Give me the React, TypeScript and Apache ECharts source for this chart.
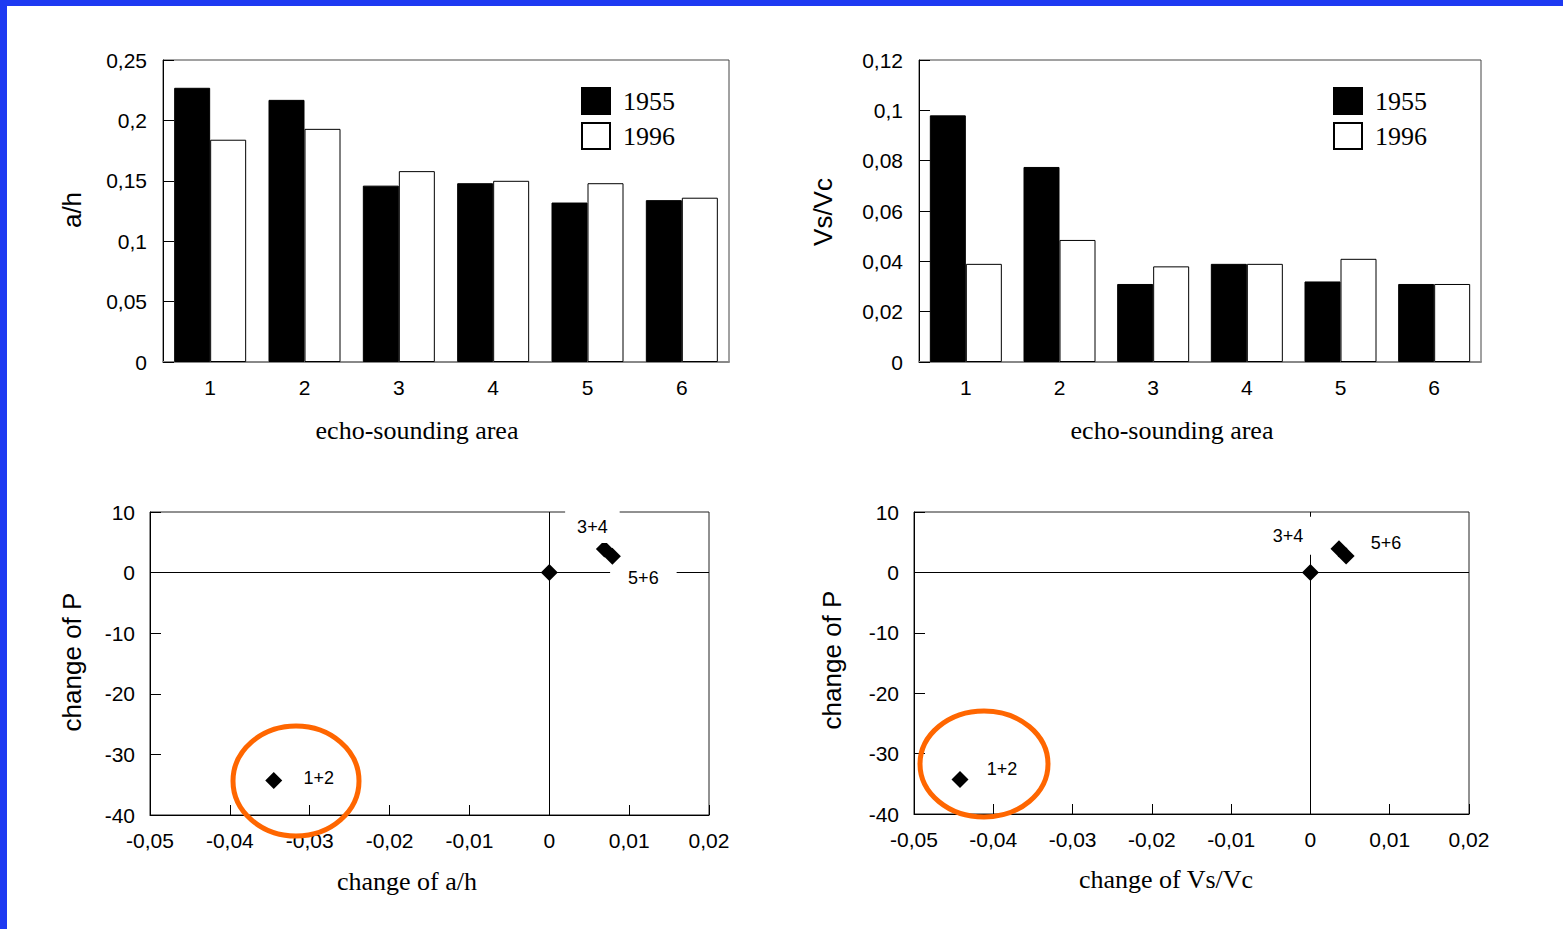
import React, { useEffect, useRef } from "react";
import * as echarts from "echarts";

// ---- data ----
const categories = ["1", "2", "3", "4", "5", "6"];
const ah1955 = [0.227, 0.217, 0.146, 0.148, 0.132, 0.134];
const ah1996 = [0.184, 0.193, 0.158, 0.15, 0.148, 0.136];
const vs1955 = [0.098, 0.0775, 0.031, 0.039, 0.032, 0.031];
const vs1996 = [0.039, 0.0485, 0.038, 0.039, 0.041, 0.031];

const groupLabels = ["1+2", "3+4", "5+6"];
const changeAh = [-0.0345, 0.0069, 0.0079];
const changeVsVc = [-0.0442, 0.0036, 0.0045];
const changeP = [-34.3, 3.9, 2.7];
const origin = [0, 0];

const fmt = (v: number) => {
  const r = Math.round(v * 1000) / 1000;
  return r === 0 ? "0" : String(r).replace(".", ",");
};

const SANS = "Liberation Sans, Arial, sans-serif";
const SERIF = "Liberation Serif, Times New Roman, serif";

export default function App() {
  const ref = useRef<HTMLDivElement>(null);
  useEffect(() => {
    if (!ref.current) return;
    const chart = echarts.init(ref.current, null, { renderer: "svg" });

    const labelStyle = { color: "#000", fontSize: 21, fontFamily: SANS };

    const barY = (max: number, interval: number) => ({
      type: "value",
      min: 0,
      max,
      interval,
      axisLine: { show: true, lineStyle: { color: "#000", width: 1 } },
      axisTick: { show: true, inside: true, length: 11, lineStyle: { color: "#000" } },
      axisLabel: { ...labelStyle, margin: 16, padding: [0, 0, 6, 0], formatter: fmt },
      splitLine: { show: false },
    });
    const barX = () => ({
      type: "category",
      data: categories,
      axisLine: { show: true, lineStyle: { color: "#888", width: 2 } },
      axisTick: { show: false },
      axisLabel: { ...labelStyle, margin: 15 },
    });
    const scX = () => ({
      type: "value",
      min: -0.05,
      max: 0.02,
      interval: 0.01,
      axisLine: { show: true, onZero: false, lineStyle: { color: "#000", width: 1 } },
      axisTick: { show: true, inside: true, length: 10, lineStyle: { color: "#000" } },
      axisLabel: { ...labelStyle, margin: 15, formatter: fmt },
      splitLine: { show: false },
    });
    const scY = () => ({
      type: "value",
      min: -40,
      max: 10,
      interval: 10,
      axisLine: { show: true, onZero: false, lineStyle: { color: "#000", width: 1 } },
      axisTick: { show: true, inside: true, length: 11, lineStyle: { color: "#000" } },
      axisLabel: { ...labelStyle, margin: 15, padding: [0, 0, 4, 0], formatter: fmt },
      splitLine: { show: false },
    });

    const barSeries = (name: string, data: number[], idx: number, white: boolean) => ({
      name,
      type: "bar",
      xAxisIndex: idx,
      yAxisIndex: idx,
      data,
      barWidth: 36,
      barGap: "0%",
      itemStyle: white
        ? { color: "#fff", borderColor: "#000", borderWidth: 1 }
        : { color: "#000", borderColor: "#000", borderWidth: 1 },
    });

    const ptLabel = (offset: number[], padding: number[]) => ({
      show: true,
      position: "inside",
      offset,
      formatter: "{b}",
      color: "#000",
      opacity: 1,
      fontSize: 18,
      fontFamily: SANS,
      backgroundColor: "#fff",
      padding,
    });

    const scatterSeries = (
      idx: number,
      xs: number[],
      offsets: number[][],
      paddings: number[][]
    ) => ({
      type: "scatter",
      xAxisIndex: idx,
      yAxisIndex: idx,
      symbol: "diamond",
      symbolSize: 17,
      itemStyle: { color: "#000", opacity: 1 },
      label: { show: false, color: "#000", fontSize: 18, fontFamily: SANS },
      emphasis: { disabled: true },
      data: [
        { name: "", value: origin },
        ...groupLabels.map((g, i) => ({
          name: g,
          value: [xs[i], changeP[i]],
          label: ptLabel(offsets[i], paddings[i]),
        })),
      ],
      markLine: {
        silent: true,
        z: 1,
        symbol: ["none", "none"],
        label: { show: false },
        lineStyle: { color: "#000", width: 1, type: "solid", opacity: 1 },
        data: [{ yAxis: 0 }, { xAxis: 0 }],
      },
      z: 3,
    });

    const nameText = (text: string, x: number, y: number, serif: boolean, rotate: boolean) => ({
      type: "text",
      x,
      y,
      rotation: rotate ? Math.PI / 2 : 0,
      z: 10,
      style: {
        text,
        fill: "#000",
        font: `26px ${serif ? SERIF : SANS}`,
        align: "center",
        verticalAlign: "middle",
        textAlign: "center",
        textVerticalAlign: "middle",
      },
    });

    const ellipse = (cx: number, cy: number, rx: number, ry: number) => ({
      type: "ellipse",
      z: 20,
      shape: { cx, cy, rx, ry },
      style: { fill: "none", stroke: "#ff6600", lineWidth: 5 },
    });

    const legend = (left: number) => ({
      left,
      top: 82,
      orient: "vertical",
      itemWidth: 28,
      itemHeight: 26,
      itemGap: 7,
      icon: "rect",
      selectedMode: false,
      data: ["1955", "1996"],
      textStyle: { color: "#000", fontSize: 26, fontFamily: SERIF, padding: [0, 0, 0, 8] },
    });

    chart.setOption({
      animation: false,
      backgroundColor: "#fff",
      grid: [
        { left: 163, top: 60, width: 566, height: 302, show: true, borderColor: "#444", borderWidth: 1 },
        { left: 919, top: 60, width: 562, height: 302, show: true, borderColor: "#444", borderWidth: 1 },
        { left: 150, top: 512, width: 559, height: 303, show: true, borderColor: "#222", borderWidth: 1 },
        { left: 914, top: 512, width: 555, height: 302, show: true, borderColor: "#222", borderWidth: 1 },
      ],
      legend: [legend(576), legend(1328)],
      xAxis: [
        { ...barX(), gridIndex: 0 },
        { ...barX(), gridIndex: 1 },
        { ...scX(), gridIndex: 2 },
        { ...scX(), gridIndex: 3 },
      ],
      yAxis: [
        { ...barY(0.25, 0.05), gridIndex: 0 },
        { ...barY(0.12, 0.02), gridIndex: 1 },
        { ...scY(), gridIndex: 2 },
        { ...scY(), gridIndex: 3 },
      ],
      series: [
        barSeries("1955", ah1955, 0, false),
        barSeries("1996", ah1996, 0, true),
        barSeries("1955", vs1955, 1, false),
        barSeries("1996", vs1996, 1, true),
        scatterSeries(
          2,
          changeAh,
          [[45, -2], [-12, -22], [31, 22]],
          [[2, 2], [12, 12, 2, 12], [4, 18, 4, 18]]
        ),
        scatterSeries(
          3,
          changeVsVc,
          [[42, -11], [-51, -13], [40, -13]],
          [[2, 2], [10, 12], [2, 2]]
        ),
      ],
      graphic: [
        { type: "rect", z: 30, shape: { x: 0, y: 0, width: 1563, height: 6 }, style: { fill: "#1e3af2" } },
        { type: "rect", z: 30, shape: { x: 0, y: 0, width: 7, height: 929 }, style: { fill: "#1e3af2" } },
        nameText("a/h", 72, 210, false, true),
        nameText("Vs/Vc", 823, 212, false, true),
        nameText("change of P", 72, 662, false, true),
        nameText("change of P", 832, 660, false, true),
        nameText("echo-sounding area", 417, 430, true, false),
        nameText("echo-sounding area", 1172, 430, true, false),
        nameText("change of a/h", 407, 881, true, false),
        nameText("change of Vs/Vc", 1166, 879, true, false),
        ellipse(296, 781, 63, 55),
        ellipse(984, 764, 64, 53),
      ],
    });
    return () => chart.dispose();
  }, []);

  return (
    <div style={{ position: "fixed", left: 0, top: 0, width: 1563, height: 929, background: "#fff" }}>
      <div ref={ref} style={{ width: 1563, height: 929 }} />
    </div>
  );
}
